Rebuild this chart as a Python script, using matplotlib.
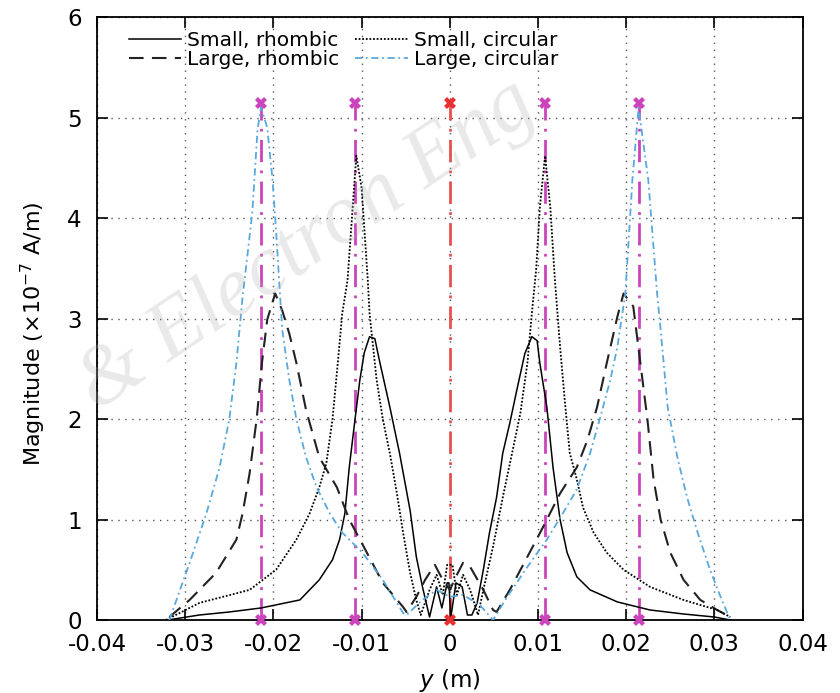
import numpy as np
import matplotlib
matplotlib.use("Agg")
import matplotlib.pyplot as plt

plt.rcParams['font.family'] = ['DejaVu Sans']

# Small, rhombic (solid)
y_small_rh = [-0.0320, -0.0284, -0.0250, -0.0214, -0.0170, -0.0148, -0.0133, -0.0125, -0.0119,
              -0.0114, -0.0108, -0.0102, -0.0097, -0.0091, -0.0085, -0.0080, -0.0068, -0.0057,
              -0.0045, -0.0038, -0.0031, -0.0023, -0.0015, -0.0009, -0.0003, -0.0001, 0.0001,
              0.0007, 0.0014, 0.0020, 0.0025, 0.0031, 0.0038, 0.0045, 0.0053, 0.0060, 0.0068,
              0.0076, 0.0085, 0.0093, 0.0099, 0.0102, 0.0110, 0.0117, 0.0125, 0.0133, 0.0144,
              0.0159, 0.0190, 0.0227, 0.0265, 0.0300, 0.0318]
m_small_rh = [0.0, 0.05, 0.08, 0.12, 0.2, 0.4, 0.6, 0.8, 1.06,
              1.52, 1.96, 2.39, 2.66, 2.82, 2.80, 2.59, 2.12, 1.66,
              1.09, 0.63, 0.33, 0.03, 0.33, 0.12, 0.37, 0.37, 0.02,
              0.37, 0.33, 0.05, 0.05, 0.17, 0.5, 0.87, 1.22, 1.66, 1.96,
              2.29, 2.65, 2.82, 2.78, 2.56, 2.12, 1.52, 1.0, 0.67, 0.43,
              0.3, 0.18, 0.1, 0.06, 0.03, 0.0]

# Large, rhombic (dashed)
y_large_rh = [-0.0318, -0.0295, -0.0265, -0.0242, -0.0235, -0.0227, -0.0219, -0.0213, -0.0207,
              -0.0198, -0.0190, -0.0182, -0.0174, -0.0163, -0.0148, -0.0128, -0.0114, -0.0094,
              -0.0076, -0.0053, -0.0049, -0.0038, -0.0028, -0.0017, -0.0008, 0.0, 0.0008,
              0.0015, 0.0023, 0.0038, 0.0049, 0.0053, 0.0068, 0.0088, 0.0106, 0.0125, 0.0144,
              0.0156, 0.0167, 0.0178, 0.0190, 0.0197, 0.0208, 0.0216, 0.0224, 0.0231, 0.0239,
              0.0250, 0.0265, 0.0284, 0.0303, 0.0318]
m_large_rh = [0.03, 0.2, 0.47, 0.8, 1.06, 1.46, 2.0, 2.56, 2.99,
              3.25, 3.08, 2.85, 2.56, 2.09, 1.62, 1.32, 1.0, 0.67,
              0.37, 0.13, 0.08, 0.23, 0.4, 0.55, 0.4, 0.3, 0.45,
              0.57, 0.53, 0.3, 0.1, 0.08, 0.3, 0.63, 0.93, 1.26, 1.52,
              1.79, 2.12, 2.56, 3.02, 3.25, 3.12, 2.56, 2.0, 1.4, 1.0,
              0.67, 0.4, 0.2, 0.1, 0.03]

# Small, circular (dotted)
y_small_ci = [-0.0322, -0.0284, -0.0227, -0.0197, -0.0174, -0.0159, -0.0148, -0.0140, -0.0133,
              -0.0127, -0.0122, -0.0116, -0.0111, -0.0106, -0.0100, -0.0093, -0.0091, -0.0083,
              -0.0076, -0.0068, -0.0060, -0.0053, -0.0045, -0.0038, -0.0033, -0.0023, -0.0015,
              -0.0008, -0.0003, 0.0003, 0.0008, 0.0015, 0.0023, 0.0032, 0.0038, 0.0049, 0.0060,
              0.0072, 0.0080, 0.0088, 0.0093, 0.0098, 0.0102, 0.0108, 0.0114, 0.0119, 0.0125,
              0.0131, 0.0136, 0.0144, 0.0151, 0.0163, 0.0178, 0.0197, 0.0227, 0.0265, 0.0303,
              0.0318]
m_small_ci = [0.0, 0.17, 0.3, 0.5, 0.8, 1.06, 1.32, 1.56, 2.0,
              2.56, 3.05, 3.38, 4.0, 4.62, 4.3, 3.38, 3.05, 2.39,
              2.0, 1.66, 1.26, 0.87, 0.47, 0.2, 0.05, 0.3, 0.45,
              0.25, 0.55, 0.55, 0.25, 0.45, 0.3, 0.05, 0.3, 0.73, 1.22,
              1.72, 2.06, 2.56, 3.05, 3.5, 4.1, 4.62, 4.1, 3.4, 2.72,
              2.12, 1.66, 1.4, 1.12, 0.87, 0.67, 0.5, 0.33, 0.2, 0.1,
              0.03]

# Large, circular (blue dash-dot)
y_large_ci = [-0.0318, -0.0295, -0.0276, -0.0261, -0.0250, -0.0242, -0.0235, -0.0224, -0.0218,
              -0.0214, -0.0207, -0.0201, -0.0197, -0.0193, -0.0190, -0.0182, -0.0174, -0.0163,
              -0.0151, -0.0136, -0.0122, -0.0099, -0.0076, -0.0053, -0.0049, -0.0031, -0.0015,
              0.0, 0.0015, 0.0034, 0.0049, 0.0065, 0.0088, 0.0110, 0.0128, 0.0144, 0.0159,
              0.0170, 0.0182, 0.0190, 0.0199, 0.0207, 0.0214, 0.0225, 0.0235, 0.0239, 0.0247,
              0.0258, 0.0269, 0.0281, 0.0295, 0.0307, 0.0318]
m_large_ci = [0.0, 0.57, 1.06, 1.52, 2.0, 2.56, 3.21, 4.05, 4.88,
              5.1, 4.9, 4.38, 3.88, 3.3, 2.89, 2.39, 2.0, 1.62,
              1.32, 1.06, 0.87, 0.67, 0.4, 0.07, 0.05, 0.2, 0.3,
              0.23, 0.25, 0.15, 0.0, 0.23, 0.53, 0.8, 1.06, 1.3, 1.66,
              2.0, 2.39, 2.72, 3.25, 4.38, 5.1, 4.38, 3.25, 2.89, 2.12,
              1.62, 1.22, 0.87, 0.5, 0.23, 0.0]

# marker positions
y_pink = [-0.0214, -0.0108, 0.0108, 0.0215]
y_red = [0.0]
m_top = 5.15

fig = plt.figure(figsize=(8.4, 6.93), dpi=100)
ax = fig.add_axes([0.1155, 0.1053, 0.840, 0.870])

ax.grid(True, color='#555555', linestyle=(0, (1, 4)), linewidth=1.0)
ax.set_axisbelow(True)

for yp in y_pink:
    ax.plot([yp, yp], [0, m_top], color='#cc44bb', linestyle=(0, (8, 3, 1, 3)), linewidth=2, zorder=2)
    ax.plot([yp, yp], [0, m_top], linestyle='none', marker='X', markersize=9, color='#cc44bb',
            markeredgewidth=0, clip_on=False, zorder=5)
for yr in y_red:
    ax.plot([yr, yr], [0, m_top], color='#e85050', linestyle=(0, (8, 3, 1, 3)), linewidth=2, zorder=2)
    ax.plot([yr, yr], [0, m_top], linestyle='none', marker='X', markersize=9, color='#e83030',
            markeredgewidth=0, clip_on=False, zorder=5)

ax.plot(y_small_rh, m_small_rh, color='black', linewidth=1.1, label='Small, rhombic', zorder=3)
ax.plot(y_large_rh, m_large_rh, color='#222222', linewidth=1.5, linestyle=(0, (7, 4)),
        label='Large, rhombic', zorder=3)
ax.plot(y_small_ci, m_small_ci, color='black', linewidth=1.3, linestyle=(0, (1, 1)),
        label='Small, circular', zorder=3)
ax.plot(y_large_ci, m_large_ci, color='#5aa8dc', linewidth=1.3, linestyle=(0, (4, 2, 1, 2)),
        label='Large, circular', zorder=3)

ax.set_xlim(-0.04, 0.04)
ax.set_ylim(0, 6)
ax.set_xticks(np.arange(-0.04, 0.041, 0.01))
ax.set_xticklabels(['-0.04', '-0.03', '-0.02', '-0.01', '0', '0.01', '0.02', '0.03', '0.04'])
ax.tick_params(direction='in', top=True, right=True, labelsize=16.5, length=8, width=1.2)
ax.tick_params(axis='x', pad=9)
ax.tick_params(axis='y', pad=11)
for s in ax.spines.values():
    s.set_linewidth(1.3)

ax.set_xlabel(r'$y$ (m)', fontsize=16.5, labelpad=8)
ax.set_ylabel(r'Magnitude ($\times$10$^{-7}$ A/m)', fontsize=16)
ax.yaxis.set_label_coords(-0.07, 0.475)

ax.legend(ncol=2, loc='upper left', bbox_to_anchor=(0.025, 1.0), frameon=False, fontsize=14.5,
          handlelength=2.6, handletextpad=0.3, columnspacing=0.8, labelspacing=0.0,
          borderaxespad=0.3)

fig.text(0.115, 0.405, '& Electron Eng', rotation=34, rotation_mode='anchor',
         ha='left', va='baseline', fontsize=61, family='Liberation Serif', style='italic',
         color='#b0b0b0', alpha=0.27, zorder=10)

fig.savefig('out.png', dpi=100)
